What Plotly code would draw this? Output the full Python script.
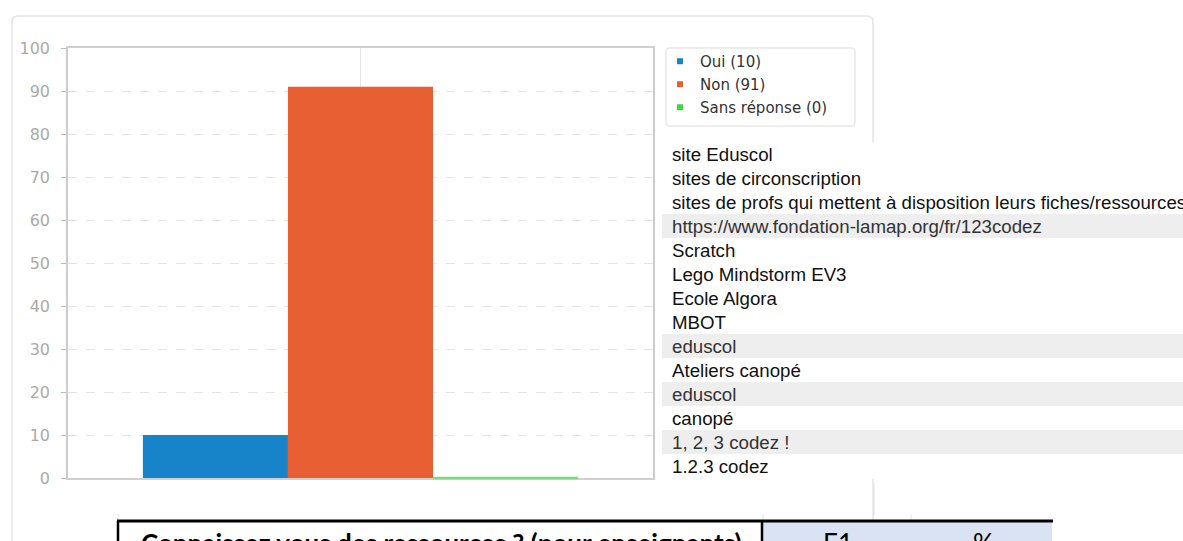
import plotly.graph_objects as go

# survey answers
answers = ["Oui", "Non", "Sans réponse"]
counts = [10, 91, 0]
colors = ["#1783c8", "#e75f33", "#46d246"]

# free text answers shown to the right of the chart
ressources = [
    "site Eduscol",
    "sites de circonscription",
    "sites de profs qui mettent à disposition leurs fiches/ressources",
    "https://www.fondation-lamap.org/fr/123codez",
    "Scratch",
    "Lego Mindstorm EV3",
    "Ecole Algora",
    "MBOT",
    "eduscol",
    "Ateliers canopé",
    "eduscol",
    "canopé",
    "1, 2, 3 codez !",
    "1.2.3 codez",
]
striped_rows = [3, 8, 10, 12]

table_title = "Connaissez vous des ressources ? (pour enseignants)"
table_cols = ["E1", "%"]

W, H = 1183, 541
L, T = 68, 48          # plot top-left (px)
PR, PB = 653, 478      # plot bottom-right (px)
PW, PH = PR - L, PB - T
BARGAP = 0.256


def px(x):
    return (x - L) / PW


def py(y):
    return (PB - y) / PH


fig = go.Figure()
for i, (name, n, c) in enumerate(zip(answers, counts, colors)):
    fig.add_trace(
        go.Bar(
            x=["q"],
            y=[n],
            marker=dict(color=c, line=dict(width=0)),
            showlegend=False,
            hoverinfo="skip",
        )
    )
    # small square swatches for the legend
    fig.add_trace(
        go.Scatter(
            x=[None], y=[None], mode="markers", name=f"{name} ({n})",
            legendgroup=name,
            marker=dict(color=c, size=6, symbol="square"),
        )
    )


def rounded_rect(x0, y0, x1, y1, r):
    # path in paper coords, corners given in px
    return (
        f"M {px(x0 + r)},{py(y0)} L {px(x1 - r)},{py(y0)} "
        f"Q {px(x1)},{py(y0)} {px(x1)},{py(y0 + r)} "
        f"L {px(x1)},{py(y1 - r)} Q {px(x1)},{py(y1)} {px(x1 - r)},{py(y1)} "
        f"L {px(x0 + r)},{py(y1)} Q {px(x0)},{py(y1)} {px(x0)},{py(y1 - r)} "
        f"L {px(x0)},{py(y0 + r)} Q {px(x0)},{py(y0)} {px(x0 + r)},{py(y0)} Z"
    )


shapes = []
# card behind the chart
shapes.append(dict(type="path", xref="paper", yref="paper",
                   path=rounded_rect(12, 16, 873, 600, 6),
                   line=dict(color="#e4e4e4", width=1.5), fillcolor="white", layer="below"))
# legend box
shapes.append(dict(type="path", xref="paper", yref="paper",
                   path=rounded_rect(666, 48, 855, 126, 4),
                   line=dict(color="#e8e8e8", width=1.5), fillcolor="white", layer="below"))
# white panel with the list
shapes.append(dict(type="rect", xref="paper", yref="paper",
                   x0=px(660), x1=px(1200), y0=py(479), y1=py(142),
                   line=dict(width=0), fillcolor="white", layer="below"))
row_h = 24
top0 = 142
for i in striped_rows:
    shapes.append(dict(type="rect", xref="paper", yref="paper",
                       x0=px(662), x1=px(1200), y0=py(top0 + (i + 1) * row_h), y1=py(top0 + i * row_h),
                       line=dict(width=0), fillcolor="#eeeeee", layer="below"))

# zero-height bars are not drawn by plotly: outline them on the axis
group_w = 1 - BARGAP
bar_w = group_w / len(counts)
for i, (n, c) in enumerate(zip(counts, colors)):
    if n == 0:
        shapes.append(dict(type="line", xref="x", yref="paper",
                           x0=-group_w / 2 + i * bar_w, x1=-group_w / 2 + (i + 1) * bar_w,
                           y0=0, y1=0, line=dict(color="#78dd78", width=2.5)))

# faint lines below the card
for x, y0, y1 in [(874, 482, 515), (911, 514, 541), (118, 514, 520), (763, 514, 520)]:
    shapes.append(dict(type="line", xref="paper", yref="paper",
                       x0=px(x), x1=px(x), y0=py(y0), y1=py(y1),
                       line=dict(color="#e2e2e2", width=1)))
# table header at the bottom
shapes.append(dict(type="rect", xref="paper", yref="paper",
                   x0=px(763), x1=px(1052), y0=py(560), y1=py(521),
                   line=dict(width=0), fillcolor="#dae3f3"))
shapes.append(dict(type="line", xref="paper", yref="paper",
                   x0=px(117), x1=px(1053), y0=py(521), y1=py(521),
                   line=dict(color="black", width=3)))
for x in [118, 762]:
    shapes.append(dict(type="line", xref="paper", yref="paper",
                       x0=px(x), x1=px(x), y0=py(521), y1=py(560),
                       line=dict(color="black", width=2.5)))

annotations = []
for i, txt in enumerate(ressources):
    annotations.append(dict(
        xref="paper", yref="paper", x=px(670), y=py(top0 + i * row_h + row_h / 2),
        xanchor="left", yanchor="middle", text=txt, showarrow=False,
        font=dict(family="Liberation Sans, Arial", size=18.7,
                  color="#333333" if i in striped_rows else "#111111"),
    ))
annotations.append(dict(
    xref="paper", yref="paper", x=px(139), y=py(525), xanchor="left", yanchor="top",
    text=f"<b>{table_title}</b>", showarrow=False,
    font=dict(family="Lato, Liberation Sans", size=26, color="black"),
))
for x, txt in zip([838, 983], table_cols):
    annotations.append(dict(
        xref="paper", yref="paper", x=px(x), y=py(525), xanchor="center", yanchor="top",
        text=txt, showarrow=False, font=dict(family="Lato, Liberation Sans", size=26, color="black"),
    ))

fig.update_layout(
    width=W, height=H,
    margin=dict(l=L, r=W - PR, t=T, b=H - PB, autoexpand=False),
    paper_bgcolor="white",
    plot_bgcolor="#f7f7f7",
    barmode="group",
    bargap=BARGAP,
    bargroupgap=0,
    font=dict(family="DejaVu Sans, Verdana", size=12, color="#333"),
    legend=dict(
        x=px(660), y=py(45), xanchor="left", yanchor="top",
        bgcolor="rgba(0,0,0,0)", borderwidth=0,
        font=dict(family="DejaVu Sans, Verdana", size=15, color="#333"),
        itemwidth=30, tracegroupgap=0.5,
    ),
    shapes=shapes,
    annotations=annotations,
)
fig.update_xaxes(
    showticklabels=False, showgrid=True, gridcolor="#e6e6e6",
    showline=True, linecolor="#d0d0d0", linewidth=1.5, mirror=True,
)
fig.update_yaxes(
    range=[0, 100], dtick=10, showgrid=True, gridcolor="#e4e4e4", griddash="dash",
    showline=True, linecolor="#cccccc", linewidth=1.5, mirror=True,
    ticks="outside", ticklen=5, tickcolor="#bbbbbb", zeroline=False,
    ticklabelstandoff=8,
    tickfont=dict(family="DejaVu Sans, Verdana", size=16, color="#aaaaaa"),
)

# drop the default page margin so the figure fills the window
fig.write_html(
    "out.html",
    config={"displayModeBar": False},
    post_script="document.body.style.margin='0';document.body.style.overflow='hidden';",
)
